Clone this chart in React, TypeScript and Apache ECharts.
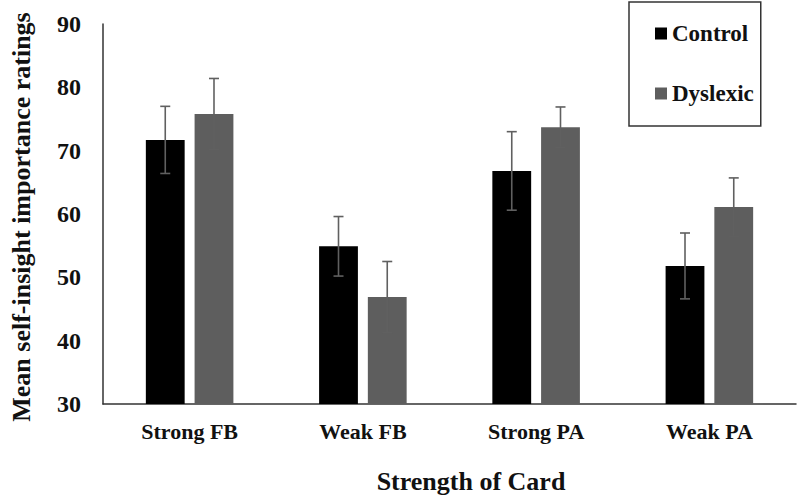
import React, { useEffect, useRef } from "react";
import * as echarts from "echarts";

const categories = ["Strong FB", "Weak FB", "Strong PA", "Weak PA"];
const controlMeans = [71.7, 54.9, 66.8, 51.8];
const controlErr = [5.3, 4.7, 6.2, 5.2];
const dyslexicMeans = [75.8, 46.9, 73.7, 61.1];
const dyslexicErr = [5.6, 5.6, 3.2, 4.6];
const yTicks = { min: 30, max: 90, interval: 10 };

const FONT = "'Liberation Serif', 'Times New Roman', serif";
const BAR_W = 0.224;
const BAR_GAP = 0.256;

export default function App() {
  const ref = useRef<HTMLDivElement>(null);
  useEffect(() => {
    if (!ref.current) return;
    const chart = echarts.init(ref.current, undefined, { renderer: "svg" });
    const errSeries = (means: number[], errs: number[], sign: number, name: string) => ({
      type: "custom",
      name: name + "err",
      z: 5,
      data: means.map((m, i) => [i, m - errs[i], m + errs[i]]),
      renderItem: (params: any, api: any) => {
        const bw = api.size([1, 0])[0];
        const off = sign * (bw * BAR_W * (1 + BAR_GAP)) / 2;
        const lo = api.coord([api.value(0), api.value(1)]);
        const hi = api.coord([api.value(0), api.value(2)]);
        const x = lo[0] + off;
        const cap = 5;
        const style = { stroke: "#606060", lineWidth: 1.6 };
        return {
          type: "group",
          children: [
            { type: "line", shape: { x1: x, y1: lo[1], x2: x, y2: hi[1] }, style },
            { type: "line", shape: { x1: x - cap, y1: lo[1], x2: x + cap, y2: lo[1] }, style },
            { type: "line", shape: { x1: x - cap, y1: hi[1], x2: x + cap, y2: hi[1] }, style },
          ],
        };
      },
      silent: true,
    });
    chart.setOption({
      animation: false,
      backgroundColor: "#ffffff",
      grid: { left: 103, right: 4, top: 24, bottom: 92, containLabel: false },
      legend: {
        data: ["Control", "Dyslexic"],
        orient: "vertical",
        left: 629,
        top: 2,
        padding: [20, 7, 21, 26],
        itemGap: 37,
        itemWidth: 12,
        itemHeight: 12,
        borderColor: "#333333",
        borderWidth: 1.5,
        icon: "rect",
        textStyle: { fontFamily: FONT, fontWeight: "bold", fontSize: 23, color: "#111", width: 86 },
      },
      xAxis: {
        type: "category",
        data: categories,
        axisLine: { lineStyle: { color: "#333", width: 1.5 } },
        axisTick: { show: false },
        axisLabel: { fontFamily: FONT, fontWeight: "bold", fontSize: 22, color: "#111", margin: 16 },
      },
      yAxis: {
        type: "value",
        min: yTicks.min,
        max: yTicks.max,
        interval: yTicks.interval,
        axisLine: { show: true, lineStyle: { color: "#333", width: 1.5 } },
        axisTick: { show: false },
        splitLine: { show: false },
        axisLabel: { fontFamily: FONT, fontWeight: "bold", fontSize: 24, color: "#111", margin: 22 },
      },
      graphic: [
        {
          type: "text",
          x: 21,
          y: 217,
          rotation: Math.PI / 2,
          style: {
            text: "Mean self-insight importance ratings",
            fontFamily: FONT,
            fontWeight: "bold",
            fontSize: 26,
            fill: "#111",
            align: "center",
            verticalAlign: "middle",
          },
        },
        {
          type: "text",
          x: 471,
          y: 481,
          style: {
            text: "Strength of Card",
            fontFamily: FONT,
            fontWeight: "bold",
            fontSize: 26,
            fill: "#111",
            align: "center",
            verticalAlign: "middle",
          },
        },
      ],
      series: [
        {
          name: "Control",
          type: "bar",
          data: controlMeans,
          barWidth: BAR_W * 100 + "%",
          barGap: BAR_GAP * 100 + "%",
          itemStyle: { color: "#000000" },
        },
        {
          name: "Dyslexic",
          type: "bar",
          data: dyslexicMeans,
          barWidth: BAR_W * 100 + "%",
          barGap: BAR_GAP * 100 + "%",
          itemStyle: { color: "#5e5e5e" },
        },
        errSeries(controlMeans, controlErr, -1, "Control"),
        errSeries(dyslexicMeans, dyslexicErr, 1, "Dyslexic"),
      ],
    });
    return () => chart.dispose();
  }, []);
  return <div ref={ref} style={{ width: 800, height: 496, position: "absolute", left: 0, top: 0 }} />;
}
